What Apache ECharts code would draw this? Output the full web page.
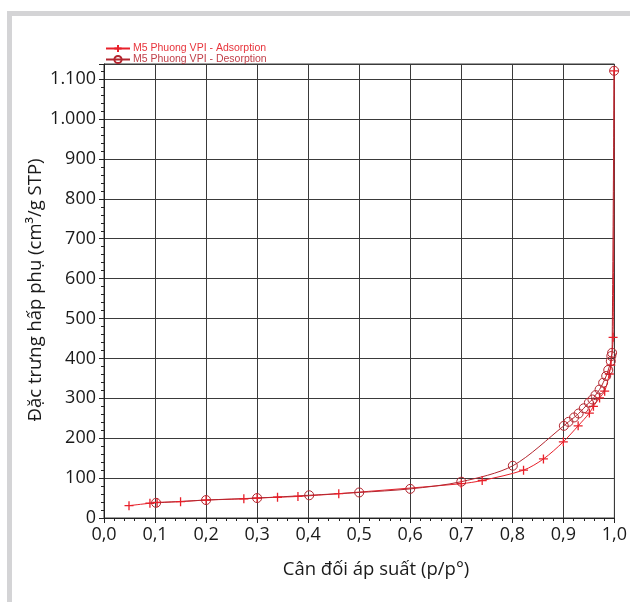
<!DOCTYPE html>
<html><head><meta charset="utf-8">
<script src="https://cdn.jsdelivr.net/npm/echarts@6/dist/echarts.min.js"></script>
<style>html,body{margin:0;padding:0;background:#fff;overflow:hidden}#c{width:630px;height:602px}</style>
</head><body><div id="c"></div>
<script>
// Adsorption branch (p/p°, volume)
const adsX = [0.049, 0.09, 0.104, 0.15, 0.2, 0.274, 0.30, 0.34, 0.38, 0.46, 0.70, 0.741, 0.822, 0.861, 0.90, 0.929, 0.951, 0.959, 0.971, 0.981, 0.990, 0.993, 0.9975, 0.9995];
const adsY = [31, 37, 39, 41, 45, 48, 50, 52, 54, 61, 86, 94, 120, 148, 191, 231, 263, 280, 301, 318, 361, 383, 453, 1121];
// Desorption branch
const desX = [0.9995, 0.9955, 0.994, 0.993, 0.988, 0.984, 0.978, 0.971, 0.963, 0.957, 0.95, 0.94, 0.93, 0.921, 0.91, 0.901, 0.801, 0.70, 0.60, 0.50, 0.402, 0.30, 0.20, 0.102];
const desY = [1121, 414, 406, 393, 371, 356, 339, 322, 308, 297, 289, 275, 262, 252, 241, 231, 131, 91, 73, 64, 57, 50, 45, 38];
const seriesNames = ['M5 Phuong VPI - Adsorption', 'M5 Phuong VPI - Desorption'];
const xTitle = 'Cân đối áp suất (p/p°)';
const yTitle = 'Đặc trưng hấp phụ (cm³/g STP)';

const adsColor = '#e8202a', desColor = '#b3262f';
const zip = (a, b) => a.map((v, i) => [v, b[i]]);
const font = '"Open Sans", sans-serif';

const chart = echarts.init(document.getElementById('c'));
chart.setOption({
  animation: false,
  backgroundColor: '#fff',
  grid: { left: 104, right: 12, top: 64, bottom: 84, show: true, borderColor: '#3a3a3a', borderWidth: 1 },
  legend: {
    orient: 'vertical', left: 100, top: 38, itemGap: 0, itemWidth: 24, itemHeight: 9,
    textStyle: { fontFamily: '"Liberation Sans", Arial, sans-serif', fontSize: 10.5, padding: [0,0,0,-2] },
    data: [
      { name: seriesNames[0], textStyle: { color: '#e8343c' } },
      { name: seriesNames[1], textStyle: { color: '#c0404a' } }
    ]
  },
  xAxis: {
    type: 'value', min: 0, max: 1, interval: 0.1,
    axisLine: { show: true, lineStyle: { color: '#222', width: 1 } },
    axisTick: { show: true, inside: false, length: 5, lineStyle: { color: '#222' } },
    minorTick: { show: true, splitNumber: 5, length: 3, lineStyle: { color: '#222' } },
    splitLine: { show: true, lineStyle: { color: '#3a3a3a', width: 1 } },
    axisLabel: { fontFamily: font, fontSize: 18, color: '#1a1a1a', margin: 8,
      formatter: v => v.toFixed(1).replace('.', ',') }
  },
  yAxis: {
    type: 'value', min: 0, max: 1138, interval: 100,
    axisLine: { show: true, lineStyle: { color: '#222', width: 1 } },
    axisTick: { show: true, length: 5, lineStyle: { color: '#222' } },
    minorTick: { show: true, splitNumber: 5, length: 3, lineStyle: { color: '#222' } },
    splitLine: { show: true, lineStyle: { color: '#3a3a3a', width: 1 } },
    axisLabel: { fontFamily: font, fontSize: 18, color: '#1a1a1a', margin: 8, showMaxLabel: false,
      formatter: v => (v % 100 === 0 ? v.toLocaleString('de-DE') : '') }
  },
  graphic: [
    { type: 'rect', shape: { x: 7, y: 11, width: 623, height: 5 }, style: { fill: '#d4d4d6' }, z: -1 },
    { type: 'rect', shape: { x: 7, y: 11, width: 5, height: 591 }, style: { fill: '#d4d4d6' }, z: -1 },
    { type: 'text', x: 376, y: 570, style: { text: xTitle, fontFamily: font, fontSize: 18.5, fill: '#1a1a1a', align: 'center', verticalAlign: 'middle' } },
    { type: 'text', x: 36, y: 290, rotation: Math.PI / 2, style: { text: yTitle, fontFamily: font, fontSize: 18.5, fill: '#1a1a1a', align: 'center', verticalAlign: 'middle' } }
  ],
  series: [
    {
      name: seriesNames[0], type: 'line', data: zip(adsX, adsY),
      smooth: 0.3,
      symbol: 'path://M0,-5L0,5M-5,0L5,0', symbolSize: 9,
      lineStyle: { color: adsColor, width: 1 },
      itemStyle: { color: 'rgba(0,0,0,0)', borderColor: adsColor, borderWidth: 1.3 }
    },
    {
      name: seriesNames[1], type: 'line', data: zip(desX, desY),
      smooth: 0.3,
      symbol: 'circle', symbolSize: 9,
      lineStyle: { color: desColor, width: 1 },
      itemStyle: { color: 'rgba(0,0,0,0)', borderColor: desColor, borderWidth: 1 }
    }
  ]
});
</script></body></html>
